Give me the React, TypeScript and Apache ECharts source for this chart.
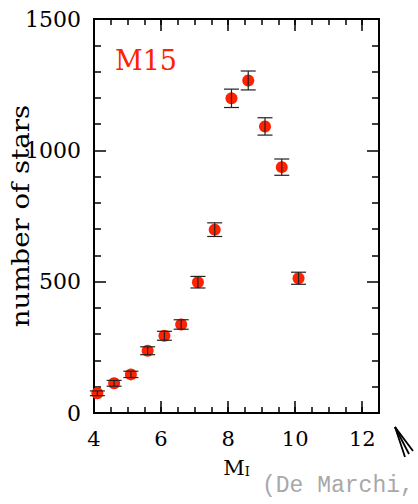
import React, { useEffect, useRef } from "react";
import * as echarts from "echarts";

const magnitudes = [4.1, 4.6, 5.1, 5.6, 6.1, 6.6, 7.1, 7.6, 8.1, 8.6, 9.1, 9.6, 10.1];
const counts = [75, 113, 147, 237, 294, 337, 498, 698, 1198, 1266, 1091, 936, 513];
const errors = [9, 11, 12, 15, 17, 18, 22, 26, 35, 36, 33, 31, 23];
const xTicks = [4, 6, 8, 10, 12];
const yTicks = [0, 500, 1000, 1500];

const SERIF = "'DejaVu Serif', 'Liberation Serif', serif";

export default function App() {
  const ref = useRef<HTMLDivElement>(null);
  useEffect(() => {
    if (!ref.current) return;
    const chart = echarts.init(ref.current, null, { renderer: "svg" });
    const points = magnitudes.map((m, i) => [m, counts[i]]);
    const bars = magnitudes.map((m, i) => [m, counts[i], errors[i]]);
    const frame = { show: true, lineStyle: { color: "#000", width: 2 } };
    const xCommon = { type: "value", min: 4, max: 12.5, splitLine: { show: false }, axisLine: frame };
    const yCommon = { type: "value", min: 0, max: 1500, interval: 500, splitLine: { show: false }, axisLine: frame };
    chart.setOption({
      animation: false,
      grid: { left: 94, right: 39, top: 19, bottom: 91, containLabel: false, outerBoundsMode: "none" },
      xAxis: [
        {
          ...xCommon,
          position: "bottom",
          interval: 2,
          axisTick: { inside: true, length: 12, lineStyle: { color: "#000", width: 1.5 } },
          axisLabel: {
            margin: 15,
            showMaxLabel: false,
            color: "#000",
            fontFamily: SERIF,
            fontSize: 21,
            formatter: (v: number) => (xTicks.includes(v) ? String(v) : ""),
          },
          name: "{m|M}{s|I}",
          nameLocation: "middle",
          nameGap: 44,
          nameTextStyle: {
            rich: {
              m: { fontFamily: SERIF, fontSize: 21, color: "#000" },
              s: { fontFamily: SERIF, fontSize: 13, color: "#000", verticalAlign: "bottom", padding: [8, 0, 0, 0] },
            },
          },
        },
        { ...xCommon, position: "bottom", interval: 0.5, axisTick: { inside: true, length: 6, lineStyle: { color: "#000", width: 1.5 } }, axisLabel: { show: false } },
        { ...xCommon, position: "top", interval: 2, axisTick: { inside: true, length: 12, lineStyle: { color: "#000", width: 1.5 } }, axisLabel: { show: false } },
        { ...xCommon, position: "top", interval: 0.5, axisTick: { inside: true, length: 6, lineStyle: { color: "#000", width: 1.5 } }, axisLabel: { show: false } },
      ],
      yAxis: [
        {
          ...yCommon,
          position: "left",
          axisTick: { inside: true, length: 12, lineStyle: { color: "#000", width: 1.5 } },
          minorTick: { show: true, splitNumber: 5, length: 7, lineStyle: { color: "#000", width: 1.5 } },
          minorSplitLine: { show: false },
          axisLabel: {
            margin: 13,
            color: "#000",
            fontFamily: SERIF,
            fontSize: 22,
            formatter: (v: number) => (yTicks.includes(v) ? String(v) : ""),
          },
        },
        {
          ...yCommon,
          position: "right",
          axisTick: { inside: true, length: 12, lineStyle: { color: "#000", width: 1.5 } },
          minorTick: { show: true, splitNumber: 5, length: 7, lineStyle: { color: "#000", width: 1.5 } },
          axisLabel: { show: false },
        },
      ],
      series: [
        {
          type: "scatter",
          xAxisIndex: 0,
          yAxisIndex: 0,
          data: points,
          symbol: "circle",
          symbolSize: 12,
          itemStyle: { color: "#ff2200", opacity: 1 },
          clip: false,
          z: 2,
        },
        {
          type: "custom",
          xAxisIndex: 0,
          yAxisIndex: 0,
          data: bars,
          clip: false,
          z: 3,
          renderItem: (params: any, api: any) => {
            const x = api.value(0);
            const y = api.value(1);
            const e = api.value(2);
            const lo = api.coord([x, y - e]);
            const hi = api.coord([x, y + e]);
            const w = 7.5;
            const style = { stroke: "#222", lineWidth: 1.2 };
            return {
              type: "group",
              children: [
                { type: "line", shape: { x1: lo[0], y1: lo[1], x2: hi[0], y2: hi[1] }, style },
                { type: "line", shape: { x1: lo[0] - w, y1: lo[1], x2: lo[0] + w, y2: lo[1] }, style },
                { type: "line", shape: { x1: hi[0] - w, y1: hi[1], x2: hi[0] + w, y2: hi[1] }, style },
              ],
            };
          },
        },
      ],
      graphic: [
        {
          type: "text",
          x: 21,
          y: 216,
          rotation: Math.PI / 2,
          scaleX: 1.15,
          style: {
            text: "number of stars",
            fontFamily: SERIF,
            fontSize: 24,
            fill: "#000",
            align: "center",
            verticalAlign: "middle",
          },
        },
        {
          type: "text",
          left: 115,
          top: 47,
          style: { text: "M15", fontFamily: SERIF, fontSize: 27, fill: "#ff2200" },
        },
        {
          type: "text",
          left: 262,
          top: 474,
          style: { text: "(De Marchi,", fontFamily: "'Liberation Mono', monospace", fontSize: 23, fill: "#a8a8a8" },
        },
        { type: "line", shape: { x1: 395, y1: 427, x2: 405, y2: 457 }, style: { stroke: "#000", lineWidth: 1.8 } },
        { type: "line", shape: { x1: 395, y1: 427, x2: 409, y2: 454 }, style: { stroke: "#000", lineWidth: 1.8 } },
        { type: "line", shape: { x1: 395, y1: 427, x2: 413, y2: 451 }, style: { stroke: "#000", lineWidth: 1.8 } },
      ],
    });
    return () => chart.dispose();
  }, []);
  return <div ref={ref} style={{ width: 418, height: 504, position: "absolute", left: 0, top: 0 }} />;
}
